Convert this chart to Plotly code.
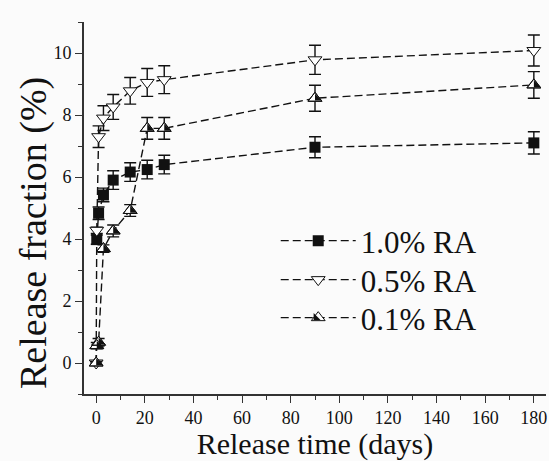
import plotly.graph_objects as go

# ---- data ----
days_10 = [0.25, 1, 3, 7, 14, 21, 28, 90, 180]
ra10 = [3.98, 4.83, 5.42, 5.9, 6.16, 6.24, 6.4, 6.96, 7.1]
ra10_err = [0.15, 0.2, 0.22, 0.3, 0.3, 0.3, 0.3, 0.34, 0.36]

days_05 = [0, 0.25, 1, 3, 7, 14, 21, 28, 90, 180]
ra05 = [0, 4.28, 7.3, 7.9, 8.26, 8.78, 9.05, 9.14, 9.78, 10.08]
ra05_err = [0.05, 0.1, 0.35, 0.4, 0.4, 0.43, 0.45, 0.45, 0.47, 0.5]

days_01 = [0, 0.25, 1, 3, 7, 14, 21, 28, 90, 180]
ra01 = [0, 0.56, 0.67, 3.69, 4.26, 4.92, 7.57, 7.57, 8.54, 8.97]
ra01_err = [0.05, 0.1, 0.12, 0.12, 0.19, 0.19, 0.35, 0.35, 0.42, 0.43]

names = ["1.0% RA", "0.5% RA", "0.1% RA"]
x_ticks = list(range(0, 181, 20))
y_ticks = list(range(0, 11, 2))
x_title = "Release time (days)"
y_title = "Release fraction (%)"

FONT = "Liberation Serif"
INK = "#111111"
LINE = dict(color=INK, width=1.4, dash="8px,4px")
ERR = dict(type="data", visible=True, color=INK, thickness=1.4, width=6)
TRI = 12
ITEMW = 75

fig = go.Figure()

fig.add_trace(go.Scatter(
    x=days_10, y=ra10, name=names[0], mode="lines+markers", legend="legend",
    line=LINE, error_y=dict(array=ra10_err, **ERR),
    marker=dict(symbol="square", size=11, color=INK, line=dict(width=0)),
))

fig.add_trace(go.Scatter(
    x=days_05, y=ra05, name=names[1], mode="lines+markers", legend="legend2",
    line=LINE, error_y=dict(array=ra05_err, **ERR),
    marker=dict(symbol="triangle-down", size=TRI, color="white",
                line=dict(width=1, color=INK)),
))

fig.add_trace(go.Scatter(
    x=days_01, y=ra01, name=names[2], mode="lines+markers", legend="legend3",
    line=LINE, error_y=dict(array=ra01_err, **ERR),
    marker=dict(symbol="triangle-up", size=TRI, color="white",
                line=dict(width=1, color=INK)),
))
# black right half of the 0.1% triangles
r_half = 0.64 * TRI / 2
fig.add_trace(go.Scatter(
    x=days_01, y=ra01, mode="markers", name=" ", legend="legend4", hoverinfo="skip",
    marker=dict(symbol="triangle-nw", size=2 * r_half, color=INK, angle=270,
                standoff=0.6 * r_half, line=dict(width=0)),
))
fig.add_trace(go.Scatter(
    x=days_01, y=ra01, mode="markers", showlegend=False, hoverinfo="skip",
    marker=dict(symbol="triangle-up", size=TRI, color="rgba(0,0,0,0)",
                line=dict(width=1, color=INK)),
))

axis_common = dict(
    automargin=False,
    showline=True, linewidth=1.6, linecolor="#333333", mirror=False,
    showgrid=False, zeroline=False, ticks="outside", ticklen=7, tickwidth=1.4,
    tickcolor="#333333", tickfont=dict(family=FONT, size=18, color=INK),
)

fig.update_xaxes(
    range=[-5, 185], tickvals=x_ticks,
    minor=dict(dtick=10, ticks="outside", ticklen=4, tickwidth=1.4, tickcolor="#333333"),
    title=dict(text=x_title, font=dict(family=FONT, size=30, color=INK), standoff=7),
    **axis_common,
)
fig.update_yaxes(
    range=[-1, 11], tickvals=y_ticks,
    minor=dict(dtick=1, ticks="outside", ticklen=4, tickwidth=1.4, tickcolor="#333333"),
    **axis_common,
)

PLOT_L, PLOT_R = 84, 546
PLOT_TOP, PLOT_BOTTOM = 22, 394
def row_y(px):
    return (PLOT_BOTTOM - px) / (PLOT_BOTTOM - PLOT_TOP)
def col_x(px):
    return (px - PLOT_L) / (PLOT_R - PLOT_L)

fig.add_annotation(
    text=y_title, textangle=-90, xref="paper", yref="paper",
    x=col_x(34), y=row_y(233), xanchor="center", yanchor="middle",
    showarrow=False, font=dict(family=FONT, size=38, color=INK),
)

leg_common = dict(x=0.415, xanchor="left", yanchor="middle",
                  bgcolor="rgba(0,0,0,0)", itemwidth=ITEMW,
                  font=dict(family=FONT, size=31, color=INK))
fig.update_layout(
    width=549, height=461,
    margin=dict(l=PLOT_L, r=549 - PLOT_R, t=PLOT_TOP, b=461 - PLOT_BOTTOM),
    paper_bgcolor="#fbfbfb", plot_bgcolor="#fbfbfb",
    font=dict(family=FONT, color=INK),
    legend=dict(y=row_y(241), **leg_common),
    legend2=dict(y=row_y(280), **leg_common),
    legend3=dict(y=row_y(318), **leg_common),
    legend4=dict(y=row_y(318), **leg_common),
)

fig.write_html("out.html", config={"displayModeBar": False},
               post_script="document.body.style.margin='0';")
